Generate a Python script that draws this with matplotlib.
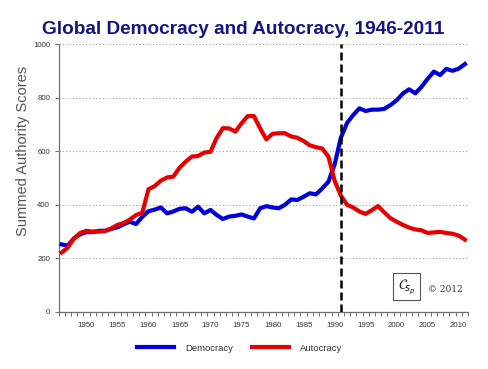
import matplotlib
matplotlib.use("Agg")
import matplotlib.pyplot as plt
from matplotlib.patches import Rectangle

years = list(range(1946, 2012))
democracy = [252, 248, 275, 290, 298, 298, 303, 303, 310, 316,
             327, 337, 328, 355, 376, 382, 390, 368, 375, 385,
             387, 374, 393, 368, 381, 362, 347, 356, 359, 364,
             356, 349, 387, 395, 390, 387, 400, 420, 418, 430,
             443, 439, 461, 486, 550, 650, 705, 735, 760, 750,
             755, 755, 758, 772, 790, 815, 831, 816, 840, 870,
             897, 884, 907, 900, 908, 925]
autocracy = [222, 240, 275, 295, 303, 300, 300, 302, 312, 325,
             332, 345, 362, 370, 458, 470, 490, 502, 505, 538,
             561, 580, 582, 595, 598, 650, 686, 685, 673, 704,
             731, 731, 685, 644, 665, 667, 667, 655, 650, 638,
             622, 615, 610, 580, 490, 435, 400, 390, 375, 366,
             380, 395, 372, 350, 337, 325, 315, 308, 305, 295,
             297, 299, 295, 292, 285, 270]
xtick_labels = [1950, 1955, 1960, 1965, 1970, 1975, 1980, 1985, 1990, 1995, 2000, 2005, 2010]
yticks = [0, 200, 400, 600, 800, 1000]
event_year = 1991

plt.rcParams['font.family'] = ['Liberation Sans', 'DejaVu Sans']

W, H = 488, 369
fig = plt.figure(figsize=(W / 100, H / 100), dpi=100)
ax = fig.add_axes([58.5 / W, 1 - 312 / H, (468 - 58.5) / W, (312 - 44) / H])

blue = '#0000dc'
red = '#e60000'
ax.plot(years, democracy, color=blue, lw=3.0, solid_joinstyle='round', label='Democracy', zorder=3)
ax.plot(years, autocracy, color=red, lw=3.0, solid_joinstyle='round', label='Autocracy', zorder=4)
ax.axvline(event_year, color='black', lw=1.8, ls=(0, (3.2, 1.6)), zorder=5)

ax.set_xlim(years[0] - 0.5, years[-1] + 0.5)
ax.set_ylim(0, 1000)
ax.set_yticks(yticks)
ax.set_yticklabels([str(v) for v in yticks])
ax.set_xticks(xtick_labels)
ax.set_xticklabels([str(v) for v in xtick_labels])
ax.set_xticks([y - 0.5 for y in years] + [years[-1] + 0.5], minor=True)

for s in ['top', 'right']:
    ax.spines[s].set_visible(False)
for s in ['left', 'bottom']:
    ax.spines[s].set_color('#707070')
    ax.spines[s].set_linewidth(0.9)

ax.tick_params(axis='x', which='major', length=0, pad=7, labelsize=5.6, labelcolor='#333333')
ax.tick_params(axis='x', which='minor', length=3, width=0.7, color='#707070', direction='out')
ax.tick_params(axis='y', which='major', length=3, width=0.7, color='#707070', pad=3,
               labelsize=5.6, labelcolor='#333333')
ax.grid(axis='y', which='major', color='#a0a0a0', lw=0.8, ls=(0, (1, 2)), zorder=0)
ax.set_axisbelow(True)
for gl in ax.get_ygridlines():
    gl.set_clip_on(False)

fig.text(243.5 / W, 1 - 33.5 / H, 'Global Democracy and Autocracy, 1946-2011',
         ha='center', va='baseline', fontsize=13.7, fontweight='bold', color='#141485')
fig.text(23 / W, 1 - 151 / H, 'Summed Authority Scores', rotation=90,
         ha='center', va='center', fontsize=10.5, color='#555555')

# logo box
fig.patches.append(Rectangle((393 / W, 1 - 300 / H), 27 / W, 27 / H, transform=fig.transFigure,
                             fill=False, edgecolor='#555555', lw=0.8))
fig.text(406.5 / W, 1 - 286.5 / H, r'$\mathcal{C}_{\!s_{p}}$', ha='center', va='center',
         fontsize=10, color='#222222')
fig.text(428 / W, 1 - 290 / H, '\u00a9 2012', ha='left', va='center', fontsize=6.5,
         color='#333333', family=['DejaVu Serif'])

leg = fig.legend(loc='center', bbox_to_anchor=(239.5 / W, 1 - 348.3 / H), ncol=2, frameon=False,
                 fontsize=6.8, handlelength=3.9, handletextpad=1.2, columnspacing=2.0,
                 borderpad=0)
for t in leg.get_texts():
    t.set_color('#333333')
for lh in leg.get_lines():
    lh.set_linewidth(3.0)

fig.savefig('out.png', dpi=100)
